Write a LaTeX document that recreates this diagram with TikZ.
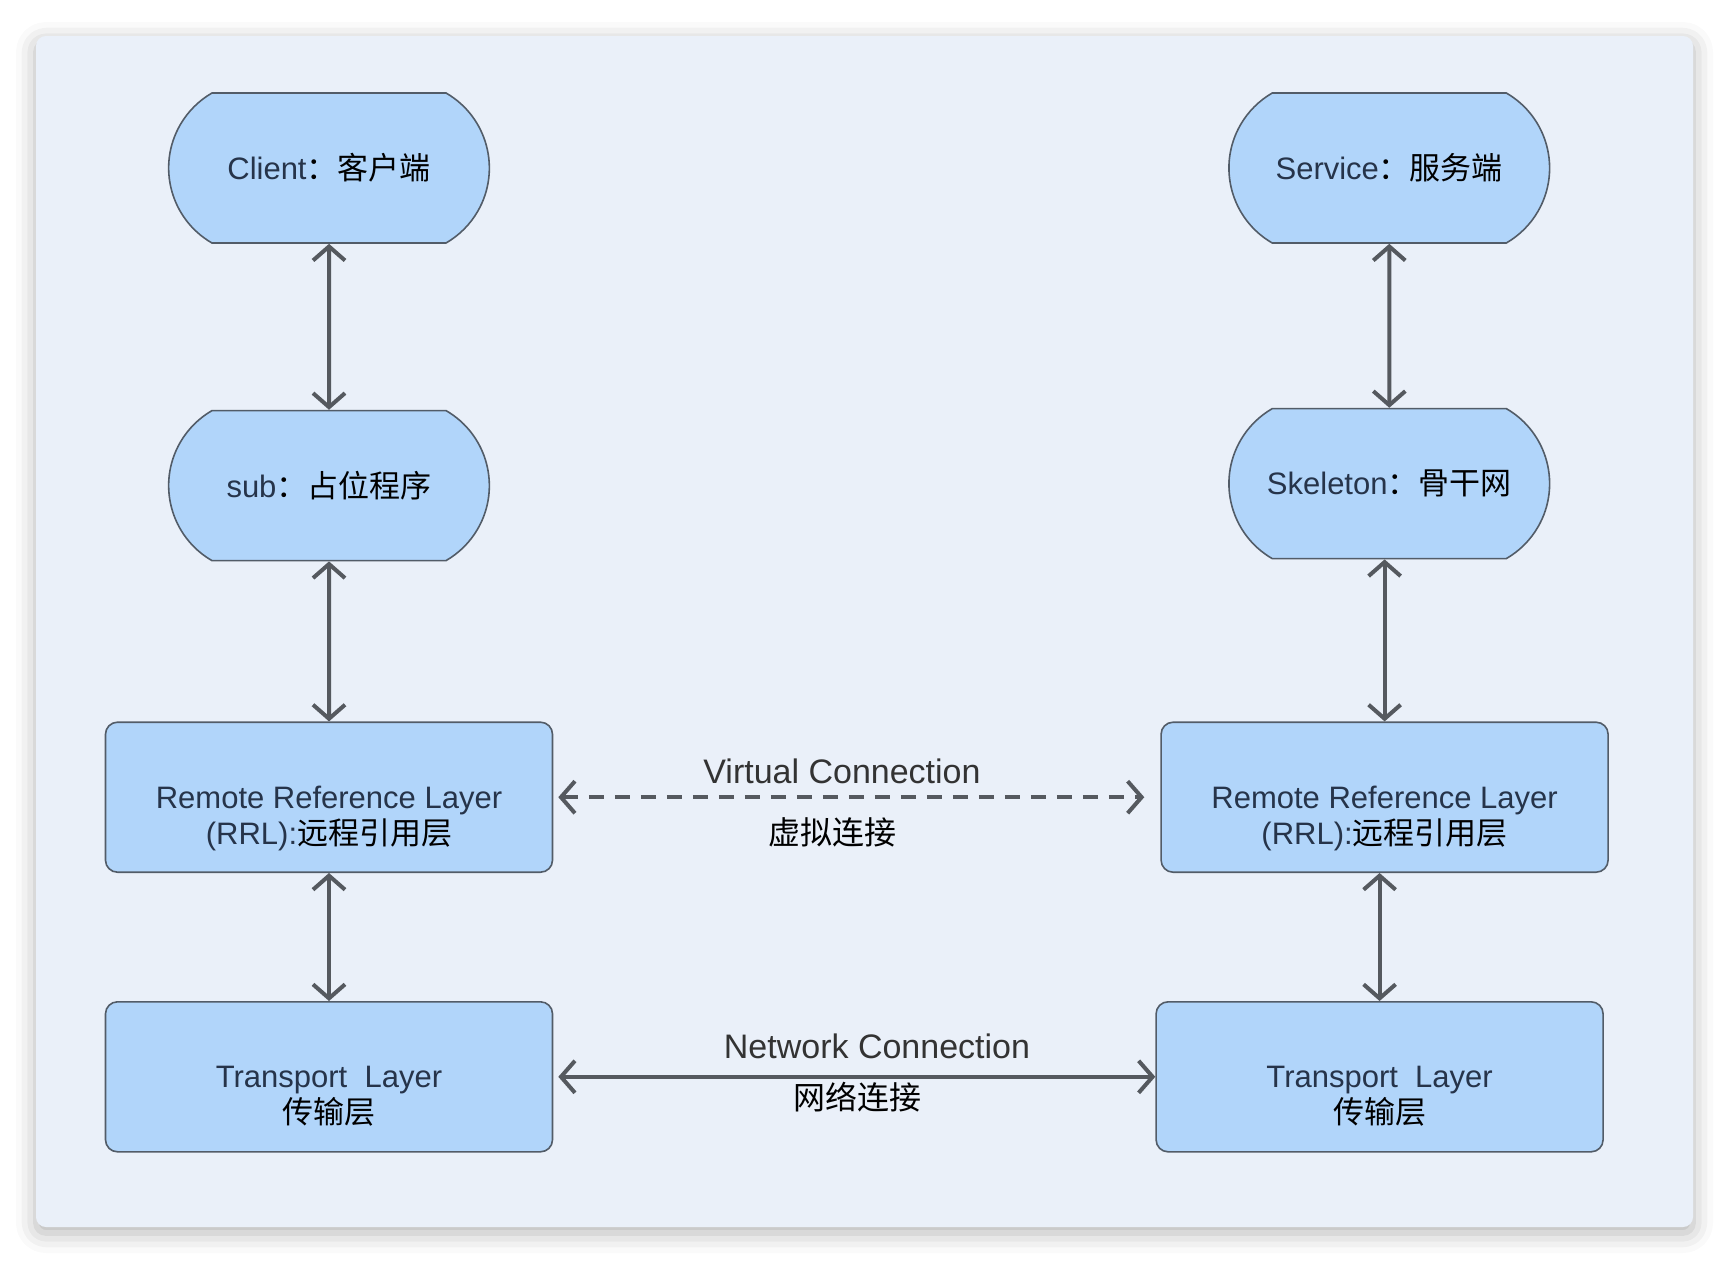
\documentclass[tikz,border=0pt]{standalone}
\usepackage{fontspec}
\setmainfont{Liberation Sans}
\newfontfamily\cjkfont{Noto Sans CJK SC}
\newcommand{\zh}[1]{{\cjkfont\color{black}#1}}
\usetikzlibrary{shapes.misc,arrows.meta,positioning,shadows.blur}

\definecolor{panelbg}{HTML}{EAF0F9}
\definecolor{nodeblue}{HTML}{B1D5FA}
\definecolor{edgegray}{HTML}{525C68}
\definecolor{arrowgray}{HTML}{55595F}
\definecolor{textslate}{HTML}{26344A}

\tikzstyle{Round} = [draw=edgegray, fill=nodeblue, line width=0.8pt, rounded rectangle, rounded rectangle arc length=120, minimum width=167pt, minimum height=75pt, text=textslate, font=\fontsize{15.5pt}{18pt}\selectfont]
\tikzstyle{Block} = [draw=edgegray, fill=nodeblue, line width=0.8pt, rectangle, rounded corners=6pt, minimum width=223.5pt, minimum height=75pt, align=center, text height=47pt, text depth=0pt, text=textslate, font=\fontsize{15.5pt}{18pt}\selectfont]
\tikzstyle{Label} = [inner sep=0pt, text=black!80, font=\fontsize{17pt}{20pt}\selectfont]
\tikzstyle{LabelZh} = [inner sep=0pt, font=\fontsize{16pt}{19pt}\selectfont]
\tikzstyle{Link} = [<->, draw=arrowgray, line width=2pt]

\begin{document}
\begin{tikzpicture}[x=0.5pt, y=-0.5pt, >={Straight Barb[length=7pt,width=16pt]}]
    \useasboundingbox (0,0) rectangle (1730,1264);
    % panel
    \fill[panelbg, rounded corners=5pt, blur shadow={shadow xshift=0pt, shadow yshift=-3pt, shadow blur radius=10pt, shadow opacity=30}] (36,36) rectangle (1693,1227);

    % client side
    \node[Round] (client)   at (329,168)           {Client\zh{：客户端}};
    \node[Round] (sub)      [below=83pt of client] {sub\zh{：占位程序}};
    \node[Block] (rrlL)     [below=80pt of sub]    {Remote Reference Layer\\(RRL):\zh{远程引用层}};
    \node[Block] (transL)   [below=64pt of rrlL]   {Transport\ \ Layer\\\zh{传输层}};
    % server side
    \node[Round] (service)  [right=369pt of client]  {Service\zh{：服务端}};
    \node[Round] (skeleton) [below=82pt of service]  {Skeleton\zh{：骨干网}};
    \node[Block] (rrlR)     [right=303.5pt of rrlL]  {Remote Reference Layer\\(RRL):\zh{远程引用层}};
    \node[Block] (transR)   [right=301pt of transL]  {Transport\ \ Layer\\\zh{传输层}};

    % connection labels
    \node[Label]   (virtualEn) at (842,771)  {Virtual Connection};
    \node[LabelZh] (virtualZh) at (832,832)  {\zh{虚拟连接}};
    \node[Label]   (networkEn) at (877,1046) {Network Connection};
    \node[LabelZh] (networkZh) at (857,1097) {\zh{网络连接}};

    \draw[Link] (client) to (sub);
    \draw[Link] (sub) to (rrlL);
    \draw[Link] (rrlL) to (transL);
    \draw[Link] (service) to (skeleton);
    \draw[Link] (skeleton.south -| rrlR) to (rrlR);
    \draw[Link] (rrlR.south -| transR) to (transR);
    \draw[Link, dash pattern=on 7.5pt off 5.5pt, shorten <=2.5pt, shorten >=8pt] (rrlL) to (rrlR);
    \draw[Link, shorten <=2.5pt] (transL) to (transR);
\end{tikzpicture}
\end{document}
